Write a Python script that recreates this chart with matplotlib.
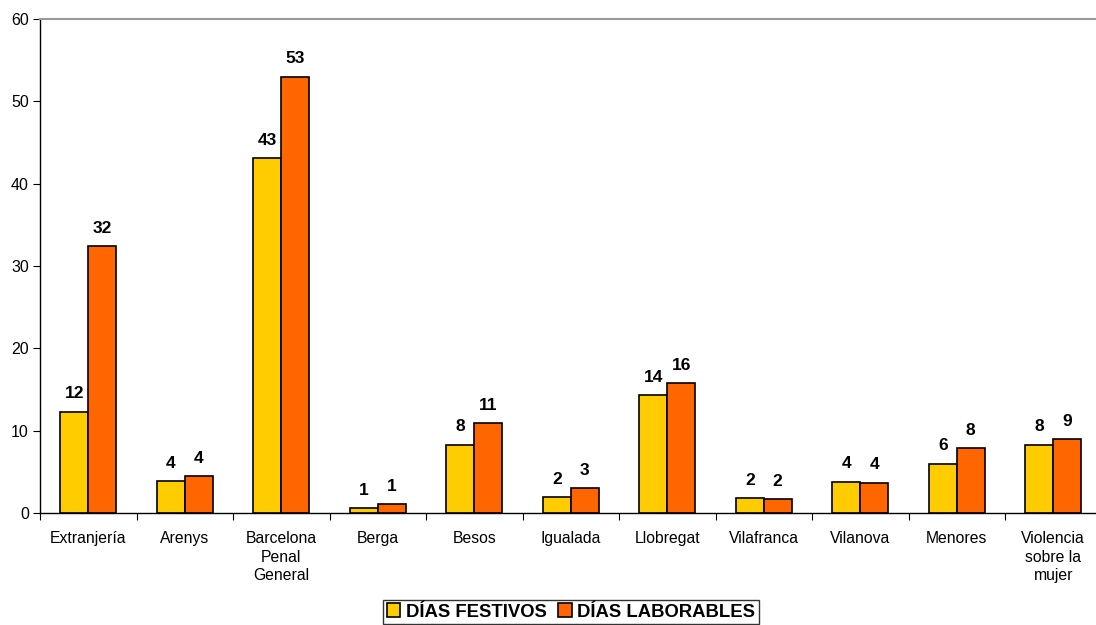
import matplotlib

matplotlib.use("Agg")
import matplotlib.pyplot as plt
import numpy as np

plt.rcParams["font.family"] = ["Liberation Sans", "DejaVu Sans"]

categories = ["Extranjería", "Arenys", "Barcelona\nPenal\nGeneral", "Berga", "Besos",
              "Igualada", "Llobregat", "Vilafranca", "Vilanova", "Menores",
              "Violencia\nsobre la\nmujer"]
festivos = [12.3, 3.9, 43.1, 0.6, 8.3, 1.9, 14.3, 1.8, 3.8, 6.0, 8.3]
laborables = [32.4, 4.5, 53.0, 1.1, 10.9, 3.0, 15.8, 1.7, 3.7, 7.9, 9.0]
series_names = ["DÍAS FESTIVOS", "DÍAS LABORABLES"]

YELLOW = "#FFCC00"
ORANGE = "#FF6600"

fig = plt.figure(figsize=(10.96, 6.25), dpi=100)
W, H = 1096, 625
left, right, top, bottom = 40, 1101.5, 19, 513
ax = fig.add_axes([left / W, (H - bottom) / H, (right - left) / W, (bottom - top) / H])

x = np.arange(len(categories))
bw = 0.29
b1 = ax.bar(x - bw / 2, festivos, bw, color=YELLOW, edgecolor="black", lw=1.2,
            label=series_names[0], zorder=2)
b2 = ax.bar(x + bw / 2, laborables, bw, color=ORANGE, edgecolor="black", lw=1.2,
            label=series_names[1], zorder=2)

for bars, vals in ((b1, festivos), (b2, laborables)):
    for r, v in zip(bars, vals):
        ax.text(r.get_x() + r.get_width() / 2, v + 1.25, f"{round(v):.0f}",
                ha="center", va="bottom", fontsize=12.5, fontweight="bold")

ax.set_xlim(-0.5, len(categories) - 0.5)
ax.set_ylim(0, 60)
ax.set_yticks(range(0, 61, 10))
ax.tick_params(axis="y", direction="out", length=5, labelsize=11.5, pad=3)

# category labels at centers, tick marks at group boundaries
ax.set_xticks(np.arange(-0.5, len(categories), 1.0))
ax.set_xticklabels([])
ax.tick_params(axis="x", which="major", direction="out", length=5)
ax.set_xticks(x, minor=True)
ax.set_xticklabels(categories, minor=True, fontsize=11.3, linespacing=1.3, va="top")
ax.tick_params(axis="x", which="minor", length=0, pad=13)

ax.spines["top"].set_color("#999999")
ax.spines["top"].set_linewidth(1.5)
ax.spines["right"].set_visible(False)
ax.spines["left"].set_linewidth(1.0)
ax.spines["bottom"].set_linewidth(1.0)

leg = fig.legend(handles=[b1, b2], loc="center", bbox_to_anchor=(571 / W, (H - 612) / H),
                 ncol=2, frameon=True, fancybox=False, edgecolor="black",
                 prop={"weight": "bold", "size": 13.3}, handlelength=0.75,
                 handleheight=0.75, handletextpad=0.3, columnspacing=0.6,
                 borderpad=0.2, borderaxespad=0)
leg.get_frame().set_linewidth(1.0)

fig.savefig("out.png", dpi=100, facecolor="white")
